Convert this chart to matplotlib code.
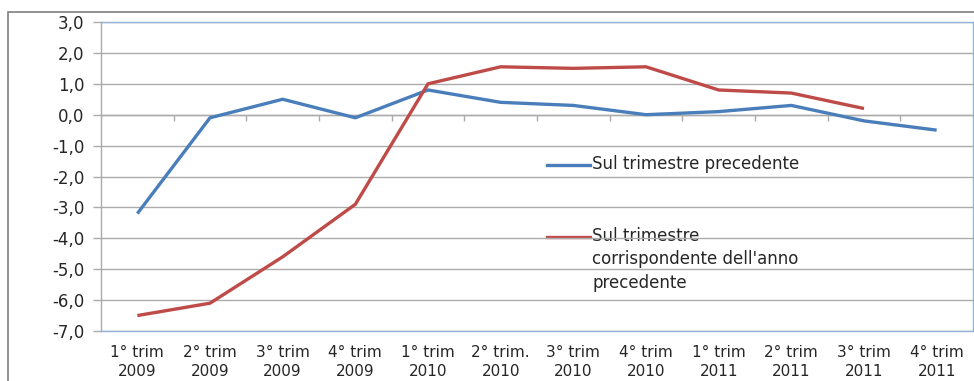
import matplotlib.pyplot as plt
from matplotlib.lines import Line2D
from matplotlib.patches import Rectangle

plt.rcParams['font.family'] = ['DejaVu Sans']
plt.rcParams['axes.unicode_minus'] = False

# Quarterly variations (%)
quarters = ['1° trim\n2009', '2° trim\n2009', '3° trim\n2009', '4° trim\n2009',
            '1° trim\n2010', '2° trim.\n2010', '3° trim\n2010', '4° trim\n2010',
            '1° trim\n2011', '2° trim\n2011', '3° trim\n2011', '4° trim\n2011']
prev_quarter = [-3.2, -0.1, 0.5, -0.1, 0.8, 0.4, 0.3, 0.0, 0.1, 0.3, -0.2, -0.5]
same_quarter_prev_year = [-6.5, -6.1, -4.6, -2.9, 1.0, 1.55, 1.5, 1.55, 0.8, 0.7, 0.2]

label_prev = 'Sul trimestre precedente'
label_year = "Sul trimestre\ncorrispondente dell'anno\nprecedente"

blue = '#4A7EBB'
red = '#BE4B48'
grid_col = '#ABABAB'
frame_col = '#95B3D7'
text_col = '#262626'

fig = plt.figure(figsize=(9.74, 3.81), dpi=100)
W, H = 974, 381
ax = fig.add_axes([101 / W, 1 - 331 / H, (973 - 101) / W, (331 - 22) / H])

# outer chart border
fig.patches.append(Rectangle((8 / W, -0.1), 1.2, 1 - 12 / H + 0.1,
                             transform=fig.transFigure, fill=False,
                             edgecolor='#7F7F7F', linewidth=1.2))

x = list(range(len(quarters)))
ax.plot(x, prev_quarter, color=blue, linewidth=2.4, zorder=3,
        solid_capstyle='butt', solid_joinstyle='round')
ax.plot(x[:len(same_quarter_prev_year)], same_quarter_prev_year, color=red,
        linewidth=2.4, zorder=3, solid_capstyle='butt', solid_joinstyle='round')

ax.set_xlim(-0.5, len(quarters) - 0.5)
ax.set_ylim(-7, 3)
ax.set_yticks(range(-7, 4))
ax.set_yticklabels([f'{v:.1f}'.replace('.', ',') for v in range(-7, 4)])
ax.set_xticks(x)
ax.set_xticklabels(quarters, linespacing=1.37)

ax.grid(axis='y', color=grid_col, linewidth=1.0)
ax.set_axisbelow(True)
for side in ['top', 'bottom', 'right']:
    ax.spines[side].set_color(frame_col)
    ax.spines[side].set_linewidth(1.0)
ax.spines['left'].set_color(grid_col)
ax.spines['left'].set_linewidth(1.0)

ax.tick_params(axis='y', direction='out', length=6, width=1.0, color=grid_col,
               pad=6, labelsize=12, labelcolor=text_col)
ax.tick_params(axis='x', length=0, pad=10, labelsize=11, labelcolor=text_col)

# category axis crossing at zero with boundary tick marks
cat_axis = ax.secondary_xaxis(7 / 10)
cat_axis.set_xticks([b + 0.5 for b in x[:-1]])
cat_axis.set_xticklabels([])
cat_axis.tick_params(direction='in', length=4, width=1.0, color=grid_col)
for sp in cat_axis.spines.values():
    sp.set_color(grid_col)
    sp.set_linewidth(1.0)

# legend drawn inside the plot area
def axes_xy(px, py):
    return (px - 101) / (973 - 101), (331 - py) / (331 - 22)

for py, col, text in [(165, blue, label_prev), (237, red, label_year)]:
    x0, y0 = axes_xy(547, py)
    x1, _ = axes_xy(590, py)
    ax.add_line(Line2D([x0, x1], [y0, y0], transform=ax.transAxes,
                       color=col, linewidth=2.4, zorder=0.4))
    tx, ty = axes_xy(592, py - 10)
    ax.text(tx, ty, text, transform=ax.transAxes, ha='left', va='top',
            fontsize=12, color=text_col, linespacing=1.38, zorder=0.4)

fig.savefig('out.png', dpi=100)
